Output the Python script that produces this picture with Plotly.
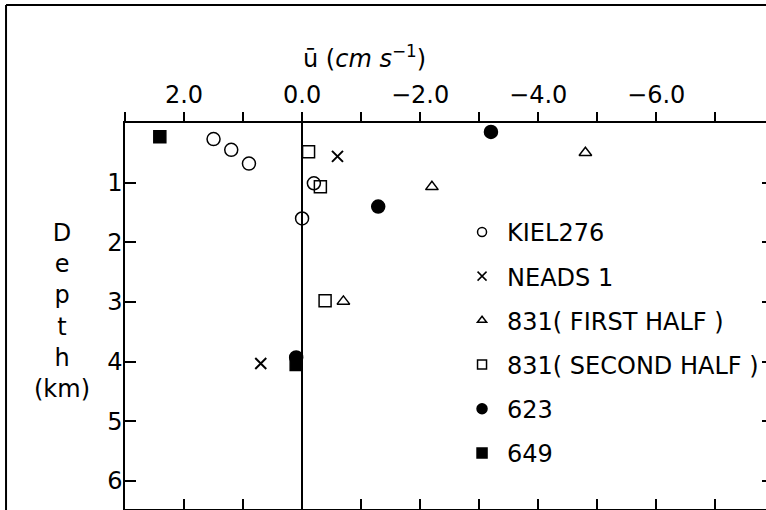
import plotly.graph_objects as go

# ---------------- data ----------------
kiel_u = [1.5, 1.2, 0.9, -0.2, 0.0]
kiel_d = [0.27, 0.45, 0.68, 1.01, 1.60]

neads_u = [-0.6, 0.7]
neads_d = [0.56, 4.03]

first_u = [-4.8, -2.2, -0.7]
first_d = [0.50, 1.07, 2.99]

second_u = [-0.11, -0.31, -0.39]
second_d = [0.48, 1.07, 2.98]

m623_u = [-3.2, -1.29, 0.1]
m623_d = [0.15, 1.40, 3.93]

m649_u = [2.41, 0.1]
m649_d = [0.23, 4.05]

x_tickvals = [2, 0, -2, -4, -6]
x_ticktext = ["2.0", "0.0", "\u22122.0", "\u22124.0", "\u22126.0"]
x_all_ticks = [3, 2, 1, 0, -1, -2, -3, -4, -5, -6, -7]
y_tickvals = [1, 2, 3, 4, 5, 6]
y_ticktext = ["1", "2", "3", "4", "5", "6"]

names = ["KIEL276", "NEADS 1", "831( FIRST HALF )", "831( SECOND HALF )", "623", "649"]
series = [(kiel_u, kiel_d), (neads_u, neads_d), (first_u, first_d),
          (second_u, second_d), (m623_u, m623_d), (m649_u, m649_d)]

FONT = "DejaVu Sans"
symbols = ["circle-open", "x-thin-open", "triangle-up-open", "square-open", "circle", "square"]
data_sizes = [13, 11, 11, 12, 13, 12]
leg_sizes = [9, 9, 8, 9, 10, 10]

fig = go.Figure()
for (u, d), sym, sz in zip(series, symbols, data_sizes):
    fig.add_trace(go.Scatter(
        x=u, y=d, mode="markers", showlegend=False, hoverinfo="skip",
        marker=dict(symbol=sym, size=sz, color="black",
                    line=dict(color="black", width=2 if "x" in sym else 1.5)),
        xaxis="x", yaxis="y"))

for i, (name, sym, sz) in enumerate(zip(names, symbols, leg_sizes)):
    fig.add_trace(go.Scatter(
        x=[None], y=[None], mode="markers", name=name, legendgroup=f"g{i}",
        marker=dict(symbol=sym, size=sz, color="black",
                    line=dict(color="black", width=1.5)),
        xaxis="x", yaxis="y"))

# helper trace so the bottom / right mirror axes get drawn
fig.add_trace(go.Scatter(x=[None], y=[None], mode="markers", showlegend=False,
                         hoverinfo="skip", xaxis="x2", yaxis="y2"))

xr = [3.0, -7.86]
yr = [6.47, 0]

fig.update_layout(
    width=766, height=510,
    margin=dict(l=125, r=0, t=123, b=1, autoexpand=False),
    paper_bgcolor="white", plot_bgcolor="white",
    font=dict(family=FONT, size=24, color="black"),
    showlegend=True,
    legend=dict(x=0.518, y=0.775, xanchor="left", yanchor="top",
                font=dict(family=FONT, size=24, color="black"),
                bgcolor="rgba(0,0,0,0)", tracegroupgap=10, itemwidth=40),
    xaxis=dict(range=xr, side="top", showline=True, linecolor="black", linewidth=1.5,
               ticks="outside", ticklen=9, tickwidth=1.5, tickcolor="black",
               tickvals=x_tickvals, ticktext=x_ticktext, ticklabelstandoff=0,
               minor=dict(tickvals=x_all_ticks, ticks="outside", ticklen=9,
                          tickwidth=1.5, tickcolor="black", showgrid=False),
               zeroline=True, zerolinecolor="black", zerolinewidth=1.5,
               showgrid=False, anchor="y", automargin=False),
    xaxis2=dict(range=xr, side="bottom", overlaying="x", anchor="y2",
                showline=True, linecolor="black", linewidth=1.5,
                ticks="inside", ticklen=10, tickwidth=1.5, tickcolor="black",
                tickvals=x_all_ticks, showticklabels=False,
                zeroline=False, showgrid=False, automargin=False),
    yaxis=dict(range=yr, showline=True, linecolor="black", linewidth=1.5,
               ticks="inside", ticklen=11, tickwidth=1.5, tickcolor="black",
               tickvals=y_tickvals, ticktext=y_ticktext, ticklabelstandoff=-4,
               zeroline=False, showgrid=False, anchor="x", automargin=False),
    yaxis2=dict(range=yr, side="right", overlaying="y", anchor="x2",
                showline=False, ticks="inside", ticklen=4, tickwidth=1.5,
                tickcolor="black", tickvals=y_tickvals, showticklabels=False,
                zeroline=False, showgrid=False, automargin=False),
)

fig.add_annotation(text="\u016b (<i>cm s</i><sup>\u22121</sup>)", xref="paper", yref="paper",
                   x=0.373, y=1.171, showarrow=False, xanchor="center", yanchor="middle",
                   font=dict(family=FONT, size=24, color="black"))
fig.add_annotation(text="D<br>e<br>p<br>t<br>h<br>(km)", xref="paper", yref="paper",
                   x=-0.098, y=0.513, showarrow=False, xanchor="center", yanchor="middle",
                   align="center", font=dict(family=FONT, size=24, color="black"))

# outer frame (left and top sides; the bottom coincides with the axis)
fig.add_shape(type="line", xref="paper", yref="paper", x0=-0.1856, x1=1.05, y0=1.306, y1=1.306,
              line=dict(color="black", width=2))
fig.add_shape(type="line", xref="paper", yref="paper", x0=-0.1856, x1=-0.1856, y0=-0.01, y1=1.306,
              line=dict(color="black", width=2))

fig.write_html("out.html", config={"displayModeBar": False},
               post_script="document.body.style.margin='0';document.body.style.overflow='hidden';")
